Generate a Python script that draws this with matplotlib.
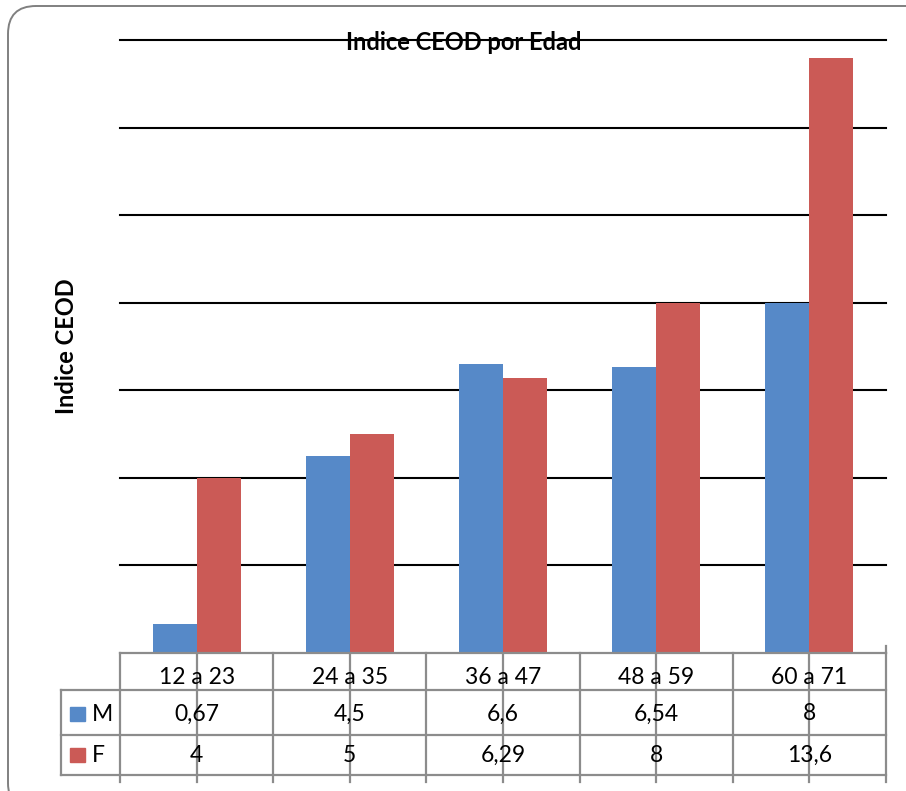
import matplotlib.pyplot as plt
from matplotlib.patches import FancyBboxPatch, Rectangle

categories = ["12 a 23", "24 a 35", "36 a 47", "48 a 59", "60 a 71"]
m_values = [0.67, 4.5, 6.6, 6.54, 8]
f_values = [4, 5, 6.29, 8, 13.6]
m_labels = ["0,67", "4,5", "6,6", "6,54", "8"]
f_labels = ["4", "5", "6,29", "8", "13,6"]

BLUE = "#5689C8"
RED = "#CB5A56"
GRID_GRAY = "#8c8c8c"
FONT = "Lato"

W, H = 906, 791
fig = plt.figure(figsize=(W / 100, H / 100), dpi=100)


def fx(px):
    return px / W


def fy(py):
    return 1 - py / H


# outer rounded frame (runs off the right and bottom edges)
frame = FancyBboxPatch((0.08, -0.2), 9.3, 7.85 + 0.2,
                       boxstyle="round,pad=0,rounding_size=0.28",
                       transform=fig.dpi_scale_trans, fill=False,
                       edgecolor="#808080", linewidth=1.4)
fig.patches.append(frame)

# plot area
x0, x1 = 120, 886
y_top, y_base = 40, 653
ax = fig.add_axes([fx(x0), fy(y_base), fx(x1) - fx(x0), fy(y_top) - fy(y_base)])
n = len(categories)
ax.set_xlim(0, n)
ax.set_ylim(0, 14)
for s in ax.spines.values():
    s.set_visible(False)
ax.set_xticks([])
ax.set_yticks([])

bw = 0.287
xs = [i + 0.5 for i in range(n)]
ax.bar([x - bw / 2 for x in xs], m_values, width=bw, color=BLUE, zorder=2)
ax.bar([x + bw / 2 for x in xs], f_values, width=bw, color=RED, zorder=2)

fig.text(fx(464), fy(43), "Indice CEOD por Edad", ha="center", va="center",
         fontsize=17, fontweight="bold", family=FONT, zorder=0)
fig.text(fx(67), fy(346), "Indice CEOD", ha="center", va="center",
         rotation=90, fontsize=17, fontweight="bold", family=FONT)

for yv in range(2, 15, 2):
    ax.axhline(yv, color="black", linewidth=1.5, zorder=3 if yv == 14 else 1,
               clip_on=False)

# data table below the plot, same x units as the bars
left_px = 61
tab = fig.add_axes([fx(left_px), fy(791), fx(x1) - fx(left_px), fy(y_base) - fy(791)])
unit = (x1 - x0) / n
tab.set_xlim(-(x0 - left_px) / unit, n)
tab.set_ylim(791, y_base)
tab.axis("off")

r_head, r_m, r_f, r_end = 653, 690, 735, 775
lw = 1.6
tab.plot([0, n], [r_head, r_head], color=GRID_GRAY, lw=lw, clip_on=False)
for yy in (r_m, r_f, r_end):
    tab.plot([tab.get_xlim()[0], n], [yy, yy], color=GRID_GRAY, lw=lw, clip_on=False)
for i in range(n + 1):
    tab.plot([i, i], [r_head, 782], color=GRID_GRAY, lw=lw, clip_on=False)
tab.plot([n, n], [646, r_head], color=GRID_GRAY, lw=lw, clip_on=False)
tab.plot([tab.get_xlim()[0]] * 2, [r_m, r_end], color=GRID_GRAY, lw=lw, clip_on=False)
for x in xs:
    tab.plot([x, x], [r_head, 782], color=GRID_GRAY, lw=lw, clip_on=False)

fs = 16.5
for i, cat in enumerate(categories):
    tab.text(xs[i], 678, cat, ha="center", va="center",
             fontsize=fs, family=FONT)
    tab.text(xs[i], 714, m_labels[i], ha="center", va="center",
             fontsize=fs, family=FONT)
    tab.text(xs[i], 755, f_labels[i], ha="center", va="center",
             fontsize=fs, family=FONT)

# legend keys inside the table
sq = 15 / unit
kx = (70 - x0) / unit
for (name, color, yc) in (("M", BLUE, 713.5), ("F", RED, 755)):
    tab.add_patch(Rectangle((kx, yc - 7), sq, 14, color=color, clip_on=False))
    tab.text((92 - x0) / unit, yc + 1, name, ha="left", va="center",
             fontsize=fs, family=FONT)

fig.savefig("out.png", dpi=100)
